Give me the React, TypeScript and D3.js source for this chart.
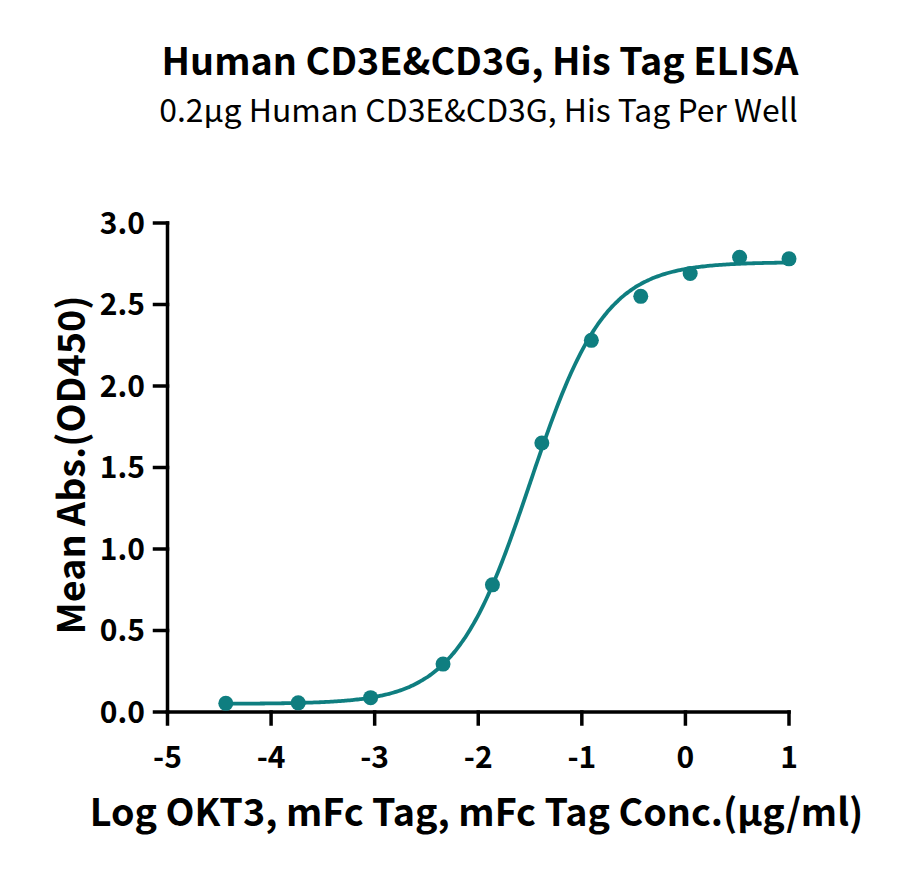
import React from "react";
import * as d3 from "d3";

const logConc: number[] = [-4.437, -3.738, -3.039, -2.34, -1.863, -1.386, -0.908, -0.431, 0.046, 0.523, 1.0];
const meanAbs: number[] = [0.053, 0.056, 0.088, 0.294, 0.78, 1.65, 2.28, 2.55, 2.69, 2.79, 2.78];
const xTicks: number[] = [-5, -4, -3, -2, -1, 0, 1];
const yTicks: number[] = [0, 0.5, 1.0, 1.5, 2.0, 2.5, 3.0];
// 4-parameter logistic fit parameters
const fitBottom = 0.05;
const fitTop = 2.76;
const fitLogEC50 = -1.5;
const fitHill = 1.2;

const title = "Human CD3E&CD3G, His Tag ELISA";
const subtitle = "0.2μg Human CD3E&CD3G, His Tag Per Well";
const xTitle = "Log OKT3, mFc Tag, mFc Tag Conc.(μg/ml)";
const yTitle = "Mean Abs.(OD450)";

const COLOR = "#0f7e80";
const FONT = "'Noto Sans CJK SC', 'Noto Sans', sans-serif";

export default function App() {
  const W = 900, H = 874;
  const x = d3.scaleLinear().domain([-5, 1]).range([167.5, 789]);
  const y = d3.scaleLinear().domain([0, 3]).range([712, 223]);

  const fit = (v: number) => fitBottom + (fitTop - fitBottom) / (1 + Math.pow(10, (fitLogEC50 - v) * fitHill));
  const curvePts: [number, number][] = d3.range(0, 301).map((i) => {
    const v = -4.437 + (i / 300) * (1.0 + 4.437);
    return [v, fit(v)];
  });
  const line = d3.line<[number, number]>().x((d) => x(d[0])).y((d) => y(d[1])).curve(d3.curveMonotoneX);

  return (
    <svg width={W} height={H} style={{ position: "absolute", left: 0, top: 0, background: "#fff" }} fontFamily={FONT}>
      <rect x={0} y={0} width={W} height={H} fill="#fff" />
      <text x={480} y={75} textAnchor="middle" fontSize={37.7} fontWeight={700} fill="#000">{title}</text>
      <text x={478.5} y={122} textAnchor="middle" fontSize={31.9} fontWeight={400} fill="#000">{subtitle}</text>

      {/* axes */}
      <g stroke="#000" strokeWidth={3.5} fill="none" strokeLinecap="square">
        <line x1={x(-5)} x2={x(1)} y1={y(0)} y2={y(0)} />
        <line x1={x(-5)} x2={x(-5)} y1={y(0)} y2={y(3)} />
        {xTicks.map((t) => (
          <line key={"xt" + t} x1={x(t)} x2={x(t)} y1={y(0)} y2={y(0) + 12} />
        ))}
        {yTicks.map((t) => (
          <line key={"yt" + t} x1={x(-5) - 13} x2={x(-5)} y1={y(t)} y2={y(t)} />
        ))}
      </g>
      {xTicks.map((t) => (
        <text key={"xl" + t} x={x(t)} y={768} textAnchor="middle" fontSize={30} fontWeight={700} fill="#000">{String(t)}</text>
      ))}
      {yTicks.map((t) => (
        <text key={"yl" + t} x={145} y={y(t)} dy="0.35em" textAnchor="end" fontSize={30} fontWeight={700} fill="#000">{t.toFixed(1)}</text>
      ))}

      <text x={476.5} y={826} textAnchor="middle" fontSize={37.7} fontWeight={700} fill="#000">{xTitle}</text>
      <text transform={`translate(85, 465) rotate(-90)`} textAnchor="middle" fontSize={37.7} fontWeight={700} fill="#000">{yTitle}</text>

      <path d={line(curvePts) || ""} fill="none" stroke={COLOR} strokeWidth={3.8} />
      {logConc.map((v, i) => (
        <circle key={"p" + i} cx={x(v)} cy={y(meanAbs[i])} r={7.5} fill={COLOR} />
      ))}
    </svg>
  );
}
